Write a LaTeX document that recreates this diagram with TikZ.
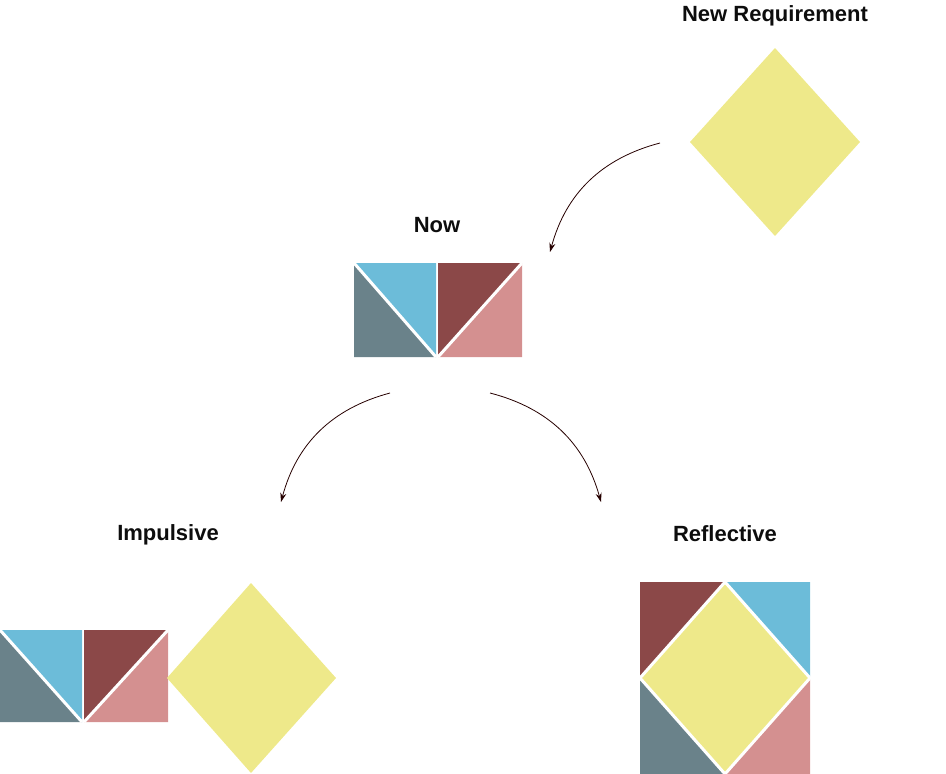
\documentclass[tikz,border=0pt]{standalone}
\usepackage{fontspec}
\setmainfont{Liberation Sans}
\usepackage{xcolor}
\usetikzlibrary{arrows.meta}

\definecolor{skyblue}{HTML}{6CBCD9}
\definecolor{slategrey}{HTML}{6A828A}
\definecolor{wine}{HTML}{8B4848}
\definecolor{rose}{HTML}{D49090}
\definecolor{khaki}{HTML}{EEE98A}

\begin{document}
\begin{tikzpicture}[x=1pt, y=-1pt, title/.style={anchor=base, font=\bfseries\fontsize{22}{26}\selectfont, text=black!95}, gap/.style={white, line width=3pt}, arrow/.style={-{Stealth[length=9pt, width=6pt]}, line width=0.8pt, black!85!red}]
  \useasboundingbox (0,0) rectangle (946,774);

  % labels
  \node[title] (reqlabel) at (775,21) {New Requirement};
  \node[title] (nowlabel) at (437,232) {Now};
  \node[title] (implabel) at (168,540) {Impulsive};
  \node[title] (reflabel) at (725,541) {Reflective};

  % new requirement
  \fill[khaki] (775,48) -- (860,142) -- (775,236) -- (690,142) -- cycle;

  % now
  \begin{scope}[shift={(354,263)}]
    \fill[skyblue] (0,0) -- (82,0) -- (82,94) -- cycle;
    \fill[slategrey] (0,0) -- (0,94) -- (82,94) -- cycle;
    \fill[wine] (84,0) -- (168,0) -- (84,94) -- cycle;
    \fill[rose] (168,0) -- (168,94) -- (84,94) -- cycle;
    \draw[gap] (0,0) -- (82,94);
    \draw[gap] (168,0) -- (84,94);
  \end{scope}

  % impulsive
  \begin{scope}[shift={(0,630)}]
    \fill[skyblue] (0,0) -- (82,0) -- (82,92) -- cycle;
    \fill[slategrey] (0,0) -- (0,92) -- (82,92) -- cycle;
    \fill[wine] (84,0) -- (168,0) -- (84,92) -- cycle;
    \fill[rose] (168,0) -- (168,92) -- (84,92) -- cycle;
    \draw[gap] (0,0) -- (82,92);
    \draw[gap] (168,0) -- (84,92);
  \end{scope}
  \fill[khaki] (251,583) -- (336,678) -- (251,773) -- (167,678) -- cycle;

  % reflective
  \begin{scope}[shift={(640,582)}]
    \fill[wine] (0,0) -- (85,0) -- (0,96) -- cycle;
    \fill[skyblue] (85,0) -- (170,0) -- (170,96) -- cycle;
    \fill[slategrey] (0,96) -- (0,192) -- (85,192) -- cycle;
    \fill[rose] (170,96) -- (170,192) -- (85,192) -- cycle;
    \fill[khaki] (85,0) -- (170,96) -- (85,192) -- (0,96) -- cycle;
    \draw[gap] (85,0) -- (170,96) -- (85,192) -- (0,96) -- cycle;
  \end{scope}

  % arrows
  \coordinate (reqout) at (660,143);
  \coordinate (nowin) at (550,252);
  \coordinate (nowoutl) at (390,393);
  \coordinate (nowoutr) at (490,393);
  \coordinate (impin) at (281,502);
  \coordinate (refin) at (601,502);
  \draw[arrow] (reqout) to[bend right=30] (nowin);
  \draw[arrow] (nowoutl) to[bend right=30] (impin);
  \draw[arrow] (nowoutr) to[bend left=30] (refin);
\end{tikzpicture}
\end{document}
